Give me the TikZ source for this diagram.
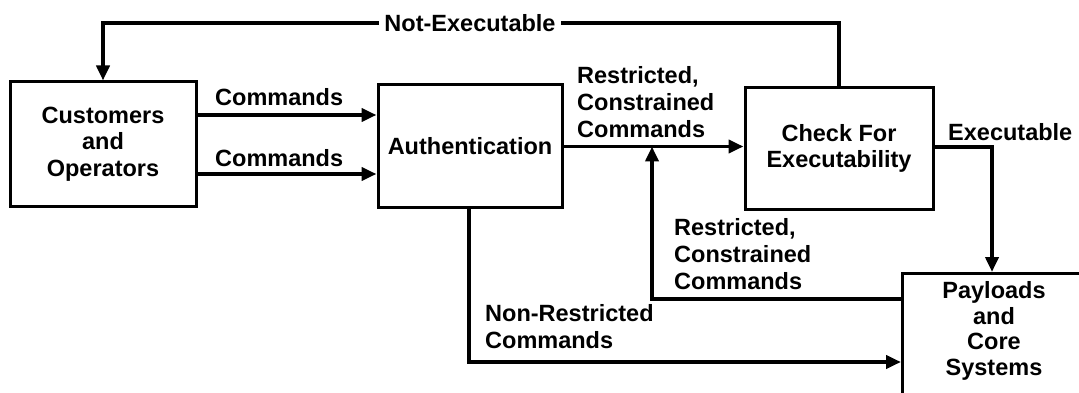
\documentclass[tikz,border=0pt]{standalone}
\usepackage{fontspec}
\setmainfont{Liberation Sans}
\usetikzlibrary{arrows.meta}

\begin{document}
\begin{tikzpicture}[x=1pt,y=-1pt,
  every node/.style={font=\fontsize{23.5}{26.5}\selectfont\bfseries, inner sep=0pt},
  blockbox/.style={draw, line width=3pt, align=center},
  flow/.style={line width=3.8pt, -{Triangle[length=15pt,width=13pt]}},
  plainflow/.style={line width=3.8pt},
  lbl/.style={align=left, anchor=north west, font=\fontsize{23.5}{27}\selectfont\bfseries},
]
\useasboundingbox (0,0) rectangle (1079,393);
\clip (0,0) rectangle (1079,393);

% blocks
\node[blockbox, minimum width=186pt, minimum height=124pt] (cust) at (103,144)
  {Customers\\and\\Operators};
\node[blockbox, minimum width=184pt, minimum height=122pt] (auth) at (470,146)
  {Authentication};
\node[blockbox, minimum width=188pt, minimum height=121pt] (check) at (839,148.5)
  {Check For\\Executability};
\node[blockbox, minimum width=200pt, minimum height=150pt, anchor=north west] (pay) at (901,272) {};
\node[align=center, font=\fontsize{23.5}{25.5}\selectfont\bfseries] (paytext) at (994,331)
  {Payloads\\and\\Core\\Systems};

% routing points
\coordinate (c1) at (0,115);
\coordinate (c2) at (0,174);
\coordinate (rc) at (0,146.5);
\coordinate (ne) at (470,23);
\coordinate (ex) at (992,147);
\coordinate (fb) at (652,299);
\coordinate (nr) at (469,362);

% commands into authentication
\draw[flow] (cust.east |- c1) -- (auth.west |- c1);
\draw[flow] (cust.east |- c2) -- (auth.west |- c2);

% restricted commands to the executability check
\draw[flow] (auth.east |- rc) -- (check.west |- rc);

% not executable: back to the customers
\draw[flow] (check.north) |- (ne) -| (cust.north);
\node[fill=white, inner xsep=5pt, inner ysep=2pt] (notexec) at (ne) {Not-Executable};

% executable commands down to the payloads
\draw[flow] (check.east |- ex) -- (ex) -- (ex |- pay.north);

% restricted commands returned from the payloads
\draw[flow] (pay.west |- fb) -- (fb) -- (fb |- rc);

% non-restricted commands straight to the payloads
\draw[flow] (auth.south -| nr) -- (nr) -- (nr -| pay.west);

% connector labels
\node[anchor=west] (lc1) at (215,97) {Commands};
\node[anchor=west] (lc2) at (215,158) {Commands};
\node[lbl] (lrc1) at (577,66.5) {Restricted,\\Constrained\\Commands};
\node[anchor=west] (lexe) at (948,132) {Executable};
\node[lbl] (lrc2) at (674,218.5) {Restricted,\\Constrained\\Commands};
\node[lbl] (lnr) at (485,304.5) {Non-Restricted\\Commands};
\end{tikzpicture}
\end{document}
